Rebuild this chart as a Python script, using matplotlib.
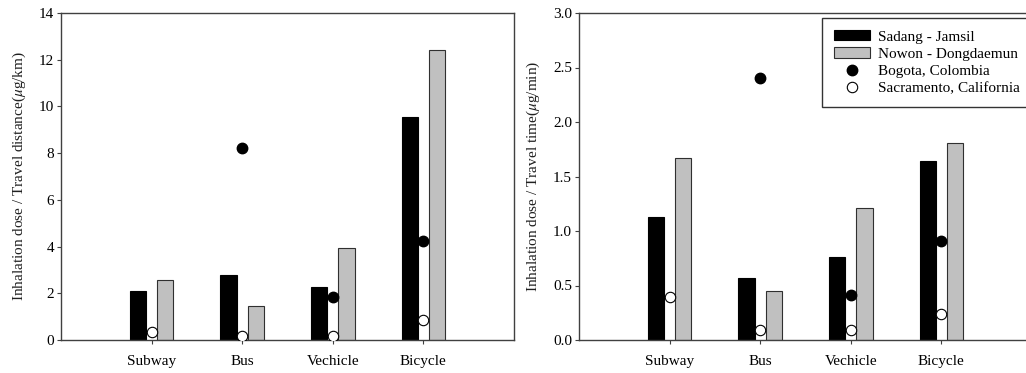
import numpy as np
import matplotlib
matplotlib.use('Agg')
import matplotlib.pyplot as plt

plt.rcParams['font.family'] = ['Liberation Serif', 'DejaVu Serif']
plt.rcParams['mathtext.fontset'] = 'stix'

modes = ['Subway', 'Bus', 'Vechicle', 'Bicycle']

# inhalation dose per travel distance (ug/km)
dist_sadang = [2.11, 2.77, 2.25, 9.55]
dist_nowon = [2.57, 1.47, 3.96, 12.43]
dist_bogota = [np.nan, 8.23, 1.82, 4.23]
dist_sacramento = [0.33, 0.17, 0.17, 0.86]

# inhalation dose per travel time (ug/min)
time_sadang = [1.13, 0.57, 0.76, 1.64]
time_nowon = [1.67, 0.45, 1.21, 1.81]
time_bogota = [np.nan, 2.40, 0.41, 0.91]
time_sacramento = [0.39, 0.095, 0.09, 0.235]

spine_col = '#404040'

fig = plt.figure(figsize=(10.26, 3.73), dpi=100)
ax1 = fig.add_axes([61/1026, 1-340/373, 453/1026, 327/373])
ax2 = fig.add_axes([579/1026, 1-340/373, 453/1026, 327/373])


def draw(ax, s, n, b, c, ymax, step, fmt, ylabel):
    x = np.arange(len(modes))
    w = 0.18
    h1 = ax.bar(x - 0.15, s, w, color='black', edgecolor='black', linewidth=0.8,
                label='Sadang - Jamsil', zorder=2)
    h2 = ax.bar(x + 0.15, n, w, color='#c0c0c0', edgecolor='#303030', linewidth=0.8,
                label='Nowon - Dongdaemun', zorder=2)
    h3, = ax.plot(x, b, 'o', color='black', markersize=7.5, linestyle='none',
                  label='Bogota, Colombia', zorder=3)
    h4, = ax.plot(x, c, 'o', markerfacecolor='white', markeredgecolor='black',
                  markeredgewidth=0.8, markersize=7.5, linestyle='none',
                  label='Sacramento, California', zorder=3)
    ax.set_xlim(-1, 4)
    ax.set_ylim(0, ymax)
    ax.set_xticks(x)
    ax.set_xticklabels(modes, fontsize=11)
    ax.set_yticks(np.arange(0, ymax + step / 2, step))
    ax.yaxis.set_major_formatter(plt.FormatStrFormatter(fmt))
    ax.tick_params(axis='y', direction='out', length=3, labelsize=11,
                   color=spine_col, pad=2)
    ax.tick_params(axis='x', direction='out', length=3, color=spine_col, pad=8)
    for sp in ax.spines.values():
        sp.set_color(spine_col)
        sp.set_linewidth(1.0)
    ax.set_ylabel(ylabel, fontsize=11, color='#202020', labelpad=8)
    return [h1, h2, h3, h4]


draw(ax1, dist_sadang, dist_nowon, dist_bogota, dist_sacramento, 14, 2, '%d',
     r'Inhalation dose / Travel distance($\mu$g/km)')
handles = draw(ax2, time_sadang, time_nowon, time_bogota, time_sacramento, 3.0, 0.5, '%.1f',
               r'Inhalation dose / Travel time($\mu$g/min)')

leg = ax2.legend(handles=handles, loc='upper left', bbox_to_anchor=(822/1026, 1-18/373),
                 bbox_transform=fig.transFigure, fontsize=11, frameon=True,
                 fancybox=False, handlelength=2.35, handleheight=0.65,
                 labelspacing=0.24, borderpad=0.8, handletextpad=0.5,
                 borderaxespad=0)
leg.get_frame().set_edgecolor('black')
leg.get_frame().set_linewidth(1.0)

fig.savefig('out.png', dpi=100)
